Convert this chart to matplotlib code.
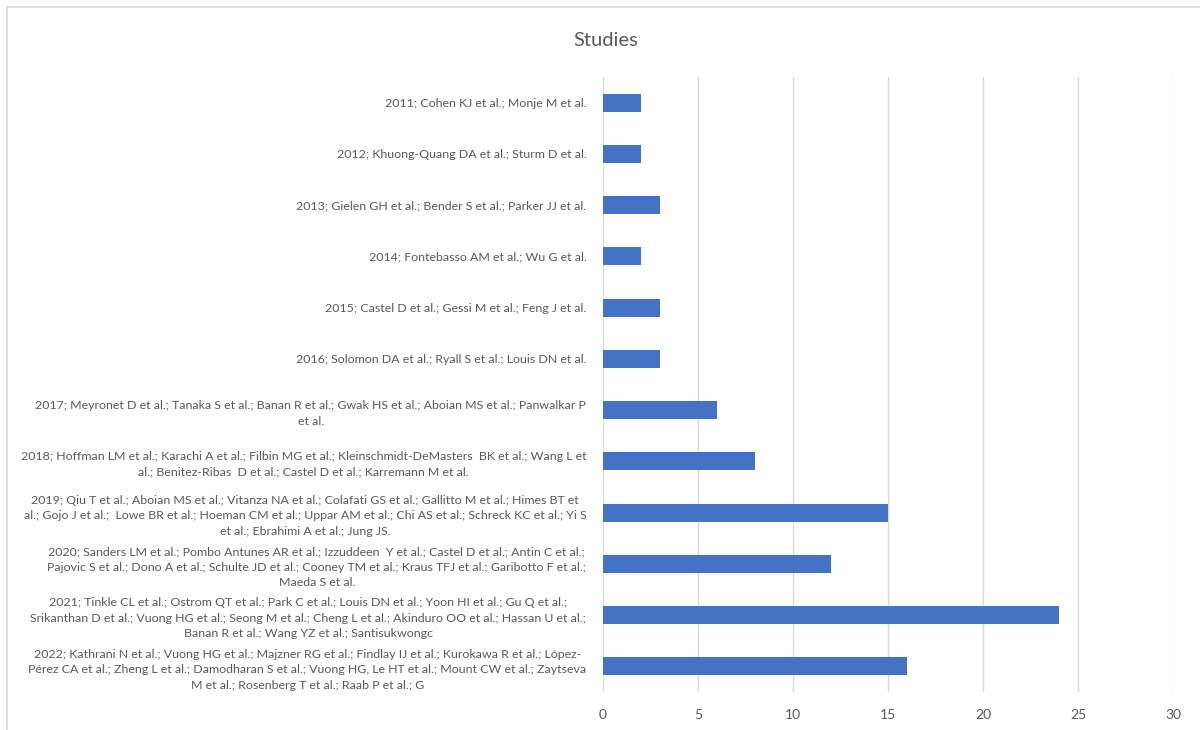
#!/usr/bin/env python3

import matplotlib
matplotlib.use("Agg")
import matplotlib.pyplot as plt
from matplotlib.patches import Rectangle

plt.rcParams["font.family"] = ["Lato", "DejaVu Sans"]

LABELS = [
    "2011; Cohen KJ et al.; Monje M et al.",
    "2012; Khuong-Quang DA et al.; Sturm D et al.",
    "2013; Gielen GH et al.; Bender S et al.; Parker JJ et al.",
    "2014; Fontebasso AM et al.; Wu G et al.",
    "2015; Castel D et al.; Gessi M et al.; Feng J et al.",
    "2016; Solomon DA et al.; Ryall S et al.; Louis DN et al.",
    "2017; Meyronet D et al.; Tanaka S et al.; Banan R et al.; Gwak HS et al.; Aboian MS et al.; Panwalkar P\net al.",
    "2018; Hoffman LM et al.; Karachi A et al.; Filbin MG et al.; Kleinschmidt-DeMasters  BK et al.; Wang L et\nal.; Benitez-Ribas  D et al.; Castel D et al.; Karremann M et al.",
    "2019; Qiu T et al.; Aboian MS et al.; Vitanza NA et al.; Colafati GS et al.; Gallitto M et al.; Himes BT et\nal.; Gojo J et al.;  Lowe BR et al.; Hoeman CM et al.; Uppar AM et al.; Chi AS et al.; Schreck KC et al.; Yi S\net al.; Ebrahimi A et al.; Jung JS.",
    "2020; Sanders LM et al.; Pombo Antunes AR et al.; Izzuddeen  Y et al.; Castel D et al.; Antin C et al.;\nPajovic S et al.; Dono A et al.; Schulte JD et al.; Cooney TM et al.; Kraus TFJ et al.; Garibotto F et al.;\nMaeda S et al.",
    "2021; Tinkle CL et al.; Ostrom QT et al.; Park C et al.; Louis DN et al.; Yoon HI et al.; Gu Q et al.;\nSrikanthan D et al.; Vuong HG et al.; Seong M et al.; Cheng L et al.; Akinduro OO et al.; Hassan U et al.;\nBanan R et al.; Wang YZ et al.; Santisukwongc",
    "2022; Kathrani N et al.; Vuong HG et al.; Majzner RG et al.; Findlay IJ et al.; Kurokawa R et al.; López-\nPérez CA et al.; Zheng L et al.; Damodharan S et al.; Vuong HG, Le HT et al.; Mount CW et al.; Zaytseva\nM et al.; Rosenberg T et al.; Raab P et al.; G",
]
STUDIES = [2, 2, 3, 2, 3, 3, 6, 8, 15, 12, 24, 16]
X_TICKS = [0, 5, 10, 15, 20, 25, 30]

TEXT_COLOR = "#595959"
BAR_COLOR = "#4472C4"
GRID_COLOR = "#D9D9D9"


def main() -> None:
    fig = plt.figure(figsize=(12, 7.3), dpi=100)
    fig.patches.append(Rectangle((0.006, -0.05), 1.2, 1.04, transform=fig.transFigure,
                                 fill=False, edgecolor="#D9D9D9", linewidth=1.2))
    ax = fig.add_axes([0.5025, 0.052, 0.475, 0.8425])

    y = list(range(len(LABELS)))
    ax.barh(y, STUDIES, height=0.35, color=BAR_COLOR, zorder=3)
    ax.set_ylim(len(LABELS) - 0.5, -0.5)
    ax.set_xlim(0, 30)
    ax.set_xticks(X_TICKS)
    ax.set_yticks(y)
    ax.set_yticklabels(LABELS, fontsize=8.95, color=TEXT_COLOR, linespacing=1.5,
                       multialignment="center")
    ax.tick_params(axis="y", length=0, pad=12)
    ax.tick_params(axis="x", length=0, pad=12, labelsize=10, labelcolor=TEXT_COLOR)
    ax.grid(axis="x", color=GRID_COLOR, linewidth=1, zorder=0)
    for side in ["top", "right", "bottom", "left"]:
        ax.spines[side].set_visible(False)

    fig.text(0.505, 0.945, "Studies", ha="center", va="center", fontsize=14.5, color=TEXT_COLOR)

    fig.savefig("out.png", dpi=100)
    plt.close(fig)


if __name__ == "__main__":
    main()
